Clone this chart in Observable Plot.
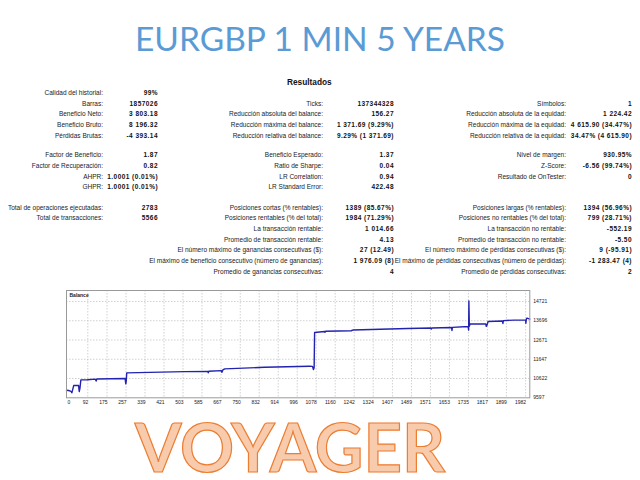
<!DOCTYPE html>
<html><head><meta charset="utf-8">
<script src="https://cdn.jsdelivr.net/npm/d3@7"></script>
<script src="https://cdn.jsdelivr.net/npm/@observablehq/plot@0.6"></script>
<style>
html,body{margin:0;padding:0;background:#fff;}
body{width:640px;height:480px;overflow:hidden;position:relative;}
.t{position:absolute;white-space:nowrap;transform:translateY(-50%);line-height:1;font-family:"Liberation Sans",Arial,sans-serif;}
.lab{font-size:6.5px;color:#222;}
.val{font-size:6.5px;font-weight:bold;color:#111;letter-spacing:0.45px;}
#title{position:absolute;left:0;width:640px;top:22px;text-align:center;font-family:Lato,"Open Sans",sans-serif;font-size:33.5px;line-height:1;color:#5B9BD5;white-space:nowrap;}
#res{position:absolute;left:287px;top:82px;transform:translateY(-50%);font-family:"Liberation Sans",Arial,sans-serif;font-weight:bold;font-size:8.3px;line-height:1;color:#111;}
#chart{position:absolute;left:0;top:285px;}
#voy{position:absolute;left:135px;top:418px;font-family:Lato,"Open Sans",sans-serif;font-weight:bold;font-size:67px;line-height:0.85;color:#F8CBAD;-webkit-text-stroke:1.2px #ED7D31;white-space:nowrap;}
</style></head><body>
<div id="title">EURGBP 1 MIN 5 YEARS</div>
<div id="res">Resultados</div>
<div id="tbl"></div>
<div id="chart"></div>
<div id="voy">VOYAGER</div>
<script>
// ---- Results table (text) ----
const b1c1Labels = ["Calidad del historial:", "Barras:", "Beneficio Neto:", "Beneficio Bruto:", "Pérdidas Brutas:"];
const b1c1Values = ["99%", "1857026", "3 803.18", "8 196.32", "-4 393.14"];
const b1c2Labels = ["", "Ticks:", "Reducción absoluta del balance:", "Reducción máxima del balance:", "Reducción relativa del balance:"];
const b1c2Values = ["", "137344328", "156.27", "1 371.69 (9.29%)", "9.29% (1 371.69)"];
const b1c3Labels = ["", "Símbolos:", "Reducción absoluta de la equidad:", "Reducción máxima de la equidad:", "Reducción relativa de la equidad:"];
const b1c3Values = ["", "1", "1 224.42", "4 615.90 (34.47%)", "34.47% (4 615.90)"];

const b2c1Labels = ["Factor de Beneficio:", "Factor de Recuperación:", "AHPR:", "GHPR:"];
const b2c1Values = ["1.87", "0.82", "1.0001 (0.01%)", "1.0001 (0.01%)"];
const b2c2Labels = ["Beneficio Esperado:", "Ratio de Sharpe:", "LR Correlation:", "LR Standard Error:"];
const b2c2Values = ["1.37", "0.04", "0.94", "422.48"];
const b2c3Labels = ["Nivel de margen:", "Z-Score:", "Resultado de OnTester:", ""];
const b2c3Values = ["930.95%", "-6.56 (99.74%)", "0", ""];

const b3c1Labels = ["Total de operaciones ejecutadas:", "Total de transacciones:"];
const b3c1Values = ["2783", "5566"];
const b3c2Labels = ["Posiciones cortas (% rentables):", "Posiciones rentables (% del total):", "La transacción rentable:", "Promedio de transacción rentable:", "El número máximo de ganancias consecutivas ($):", "El máximo de beneficio consecutivo (número de ganancias):", "Promedio de ganancias consecutivas:"];
const b3c2Values = ["1389 (85.67%)", "1984 (71.29%)", "1 014.66", "4.13", "27 (12.49)", "1 976.09 (8)", "4"];
const b3c3Labels = ["Posiciones largas (% rentables):", "Posiciones no rentables (% del total):", "La transacción no rentable:", "Promedio de transacción no rentable:", "El número máximo de pérdidas consecutivas ($):", "El máximo de pérdidas consecutivas (número de pérdidas):", "Promedio de pérdidas consecutivas:"];
const b3c3Values = ["1394 (56.96%)", "799 (28.71%)", "-552.19", "-5.50", "9 (-95.91)", "-1 283.47 (4)", "2"];

// ---- Balance series (trade number, balance) ----
const balanceTrade = [0, 9, 20, 23, 26, 31, 52, 55, 58, 62, 90, 124, 128, 131, 253, 256, 258, 260, 510, 610, 612, 614, 669, 671, 675, 683, 854, 1049, 1062, 1066, 1069, 1071, 1114, 1116, 1118, 1229, 1236, 1473, 1573, 1575, 1577, 1662, 1664, 1666, 1734, 1736, 1737, 1739, 1742, 1810, 1812, 1815, 1820, 1882, 1884, 1886, 1932, 1982, 1983, 1985, 1988, 2000];
const balanceValue = [10000, 9984, 9940, 9862, 9990, 10249, 10260, 9931, 10100, 10551, 10560, 10590, 10490, 10600, 10620, 10339, 10500, 10922, 10991, 11000, 10930, 11010, 11044, 10950, 11080, 11134, 11219, 11272, 11270, 11097, 11200, 13073, 13126, 13080, 13140, 13164, 13201, 13285, 13307, 13254, 13310, 13338, 13180, 13340, 13391, 13200, 14753, 13400, 13519, 13519, 13400, 13450, 13656, 13680, 13550, 13700, 13730, 13740, 13560, 13780, 13837, 13784];
const xTicks = [0, 92, 175, 257, 339, 421, 503, 585, 667, 750, 832, 914, 996, 1078, 1160, 1242, 1324, 1407, 1489, 1571, 1653, 1735, 1817, 1899, 1982];
const yTicks = [9597, 10622, 11647, 12671, 13696, 14721];

// table layout
const tbl = document.getElementById("tbl");
function put(text, xRight, y, cls) {
  if (!text) return;
  const d = document.createElement("div");
  d.className = "t " + cls;
  d.textContent = text;
  d.style.right = (640 - xRight) + "px";
  d.style.top = y + "px";
  tbl.appendChild(d);
}
const step = 10.67;
const cols = [[103, 158], [323, 394], [566, 632]];
function block(y0, groups) {
  groups.forEach(([labels, values], ci) => {
    labels.forEach((l, i) => {
      put(l, cols[ci][0], y0 + i * step, "lab");
      put(values[i], cols[ci][1], y0 + i * step, "val");
    });
  });
}
block(93, [[b1c1Labels, b1c1Values], [b1c2Labels, b1c2Values], [b1c3Labels, b1c3Values]]);
block(155.3, [[b2c1Labels, b2c1Values], [b2c2Labels, b2c2Values], [b2c3Labels, b2c3Values]]);
block(207.7, [[b3c1Labels, b3c1Values], [b3c2Labels, b3c2Values], [b3c3Labels, b3c3Values]]);

// chart
const balance = balanceTrade.map((t, i) => ({trade: t, value: balanceValue[i]}));
const fmt = d => String(d);
const chart = Plot.plot({
  width: 640, height: 125,
  marginLeft: 66, marginRight: 110.7, marginTop: 5, marginBottom: 12.7,
  x: {domain: [0, 2000]},
  y: {domain: [9597, 15304]},
  style: {fontFamily: "'Liberation Sans', Arial, sans-serif", fontSize: "5px", color: "#222", background: "#fff", overflow: "visible"},
  marks: [
    Plot.gridX(xTicks.slice(1), {stroke: "#bdbdbd", strokeOpacity: 1, strokeWidth: 0.7, strokeDasharray: "1.5,1.5"}),
    Plot.gridY(yTicks.slice(1), {stroke: "#bdbdbd", strokeOpacity: 1, strokeWidth: 0.7, strokeDasharray: "1.5,1.5"}),
    Plot.line(balance, {x: "trade", y: "value", stroke: "#2323b0", strokeWidth: 1.4}),
    Plot.frame({stroke: "#9a9a9a", strokeWidth: 1}),
    Plot.axisX([0], {tickSize: 0, tickPadding: 2.5, textAnchor: "start", dx: 1, tickFormat: fmt, label: null}),
    Plot.axisX(xTicks.slice(1), {tickSize: 0, tickPadding: 2.5, textAnchor: "end", dx: 0.5, tickFormat: fmt, label: null}),
    Plot.axisY(yTicks, {anchor: "right", tickSize: 0, tickPadding: 3.5, tickFormat: fmt, label: null}),
    Plot.text(["Balance"], {frameAnchor: "top-left", dx: 3, dy: 3, fontWeight: "bold", fontSize: 5, fill: "#222", textAnchor: "start", lineAnchor: "top"})
  ]
});
document.getElementById("chart").appendChild(chart);
</script>
</body></html>
